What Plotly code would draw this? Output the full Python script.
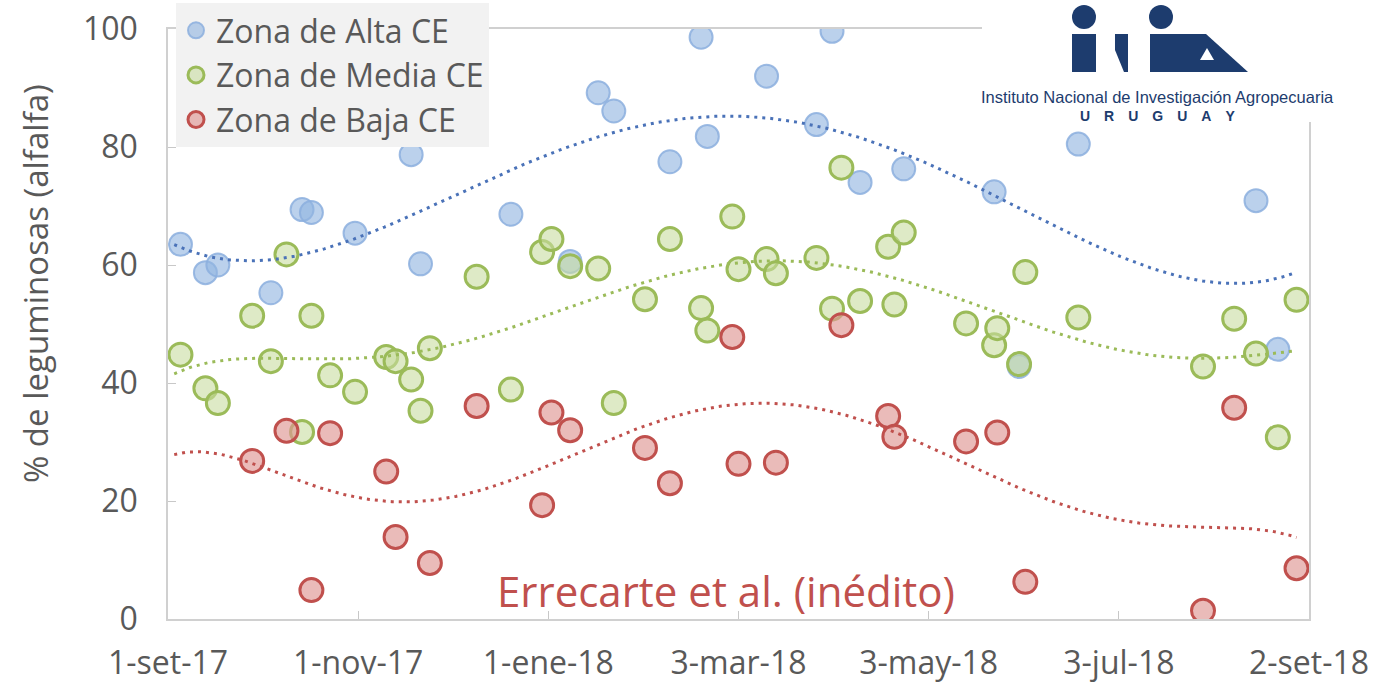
import numpy as np
import pandas as pd
import plotly.graph_objects as go

# ---------------- data ----------------
alta_dates = ["2017-09-05", "2017-09-13", "2017-09-17", "2017-10-04", "2017-10-14", "2017-10-17",
              "2017-10-31", "2017-11-18", "2017-11-21", "2017-12-20", "2018-01-08", "2018-01-17",
              "2018-01-22", "2018-02-09", "2018-02-19", "2018-02-21", "2018-03-12", "2018-03-28",
              "2018-04-02", "2018-04-11", "2018-04-25", "2018-05-24", "2018-06-01", "2018-06-20",
              "2018-08-16", "2018-08-23"]
alta_vals = [63.5, 58.7, 60.0, 55.3, 69.4, 68.9, 65.4, 78.7, 60.2, 68.6, 60.6, 89.2,
             86.1, 77.5, 98.6, 81.8, 92.0, 83.8, 99.6, 74.0, 76.3, 72.4, 42.8, 80.5,
             70.9, 45.7]

media_dates = ["2017-09-05", "2017-09-13", "2017-09-17", "2017-09-28", "2017-10-04", "2017-10-09",
               "2017-10-14", "2017-10-17", "2017-10-23", "2017-10-31", "2017-11-10", "2017-11-13",
               "2017-11-18", "2017-11-21", "2017-11-24", "2017-12-09", "2017-12-20", "2017-12-30",
               "2018-01-02", "2018-01-08", "2018-01-17", "2018-01-22", "2018-02-01", "2018-02-09",
               "2018-02-19", "2018-02-21", "2018-03-01", "2018-03-03", "2018-03-12", "2018-03-15",
               "2018-03-28", "2018-04-02", "2018-04-05", "2018-04-11", "2018-04-20", "2018-04-22",
               "2018-04-25", "2018-05-15", "2018-05-24", "2018-05-25", "2018-06-01", "2018-06-03",
               "2018-06-20", "2018-07-30", "2018-08-09", "2018-08-16", "2018-08-23", "2018-08-29"]
media_vals = [44.8, 39.1, 36.6, 51.4, 43.7, 61.8, 31.7, 51.4, 41.3, 38.5, 44.4, 43.7,
              40.6, 35.3, 45.9, 58.0, 38.9, 62.2, 64.4, 59.8, 59.4, 36.6, 54.2, 64.4,
              52.7, 48.9, 68.2, 59.3, 61.0, 58.6, 61.2, 52.6, 76.5, 53.9, 63.1, 53.3,
              65.5, 50.1, 46.4, 49.3, 43.2, 58.8, 51.1, 42.8, 50.9, 45.0, 30.8, 54.1]

baja_dates = ["2017-09-28", "2017-10-09", "2017-10-17", "2017-10-23", "2017-11-10", "2017-11-13",
              "2017-11-24", "2017-12-09", "2017-12-30", "2018-01-02", "2018-01-08", "2018-02-01",
              "2018-02-09", "2018-03-01", "2018-03-03", "2018-03-15", "2018-04-05", "2018-04-20",
              "2018-04-22", "2018-05-15", "2018-05-25", "2018-06-03", "2018-07-30", "2018-08-09",
              "2018-08-29"]
baja_vals = [26.8, 31.9, 4.9, 31.5, 25.0, 13.9, 9.5, 36.1, 19.3, 35.0, 32.0, 29.0,
             23.0, 47.8, 26.3, 26.5, 49.8, 34.4, 30.9, 30.1, 31.6, 6.3, 1.4, 35.8,
             8.6]

series_names = ["Zona de Alta CE", "Zona de Media CE", "Zona de Baja CE"]
trend_orders = [4, 6, 6]
tick_dates = ["2017-09-01", "2017-11-01", "2018-01-01", "2018-03-03", "2018-05-03", "2018-07-03", "2018-09-02"]
tick_labels = ["1-set-17", "1-nov-17", "1-ene-18", "3-mar-18", "3-may-18", "3-jul-18", "2-set-18"]
y_ticks = [0, 20, 40, 60, 80, 100]
source_note = "Errecarte et al. (inédito)"
y_title = "% de leguminosas (alfalfa)"
logo_line1 = "Instituto Nacional de Investigación Agropecuaria"
logo_line2 = "URUGUAY"

# ---------------- styles ----------------
W, H = 1377, 686
L, R, T, B = 168, 1309, 29, 619  # plot area in px
FONT = "Open Sans"
GREY = "#595959"
NAVY = "#1d3c6e"

styles = [
    dict(fill="rgba(145,180,225,0.62)", line="rgba(140,175,222,0.85)", lw=2, trend="#4a72b8"),
    dict(fill="rgba(200,220,160,0.60)", line="#9bbb59", lw=3, trend="#9bbb59"),
    dict(fill="rgba(222,150,148,0.65)", line="#c0504d", lw=3, trend="#c0504d"),
]


def px(x):
    return (x - L) / (R - L)


def py(y):
    return (B - y) / (B - T)


origin = pd.Timestamp(tick_dates[0])
datasets = [(alta_dates, alta_vals), (media_dates, media_vals), (baja_dates, baja_vals)]
all_days = np.concatenate([(pd.to_datetime(d) - origin).days.values for d, _ in datasets])
grid = np.linspace(all_days.min() - 2, all_days.max(), 300)
grid_dates = origin + pd.to_timedelta(grid, unit="D")

fig = go.Figure()
for (d, v), name, st in zip(datasets, series_names, styles):
    fig.add_trace(go.Scatter(
        x=pd.to_datetime(d), y=v, mode="markers", name=name,
        marker=dict(size=23, color=st["fill"], line=dict(color=st["line"], width=st["lw"])),
    ))

for (d, v), st, order in zip(datasets, styles, trend_orders):
    days = (pd.to_datetime(d) - origin).days.values.astype(float)
    poly = np.polynomial.Polynomial.fit(days, np.array(v), order)
    fig.add_trace(go.Scatter(
        x=grid_dates, y=poly(grid), mode="lines", showlegend=False, hoverinfo="skip",
        line=dict(color=st["trend"], width=3, dash="3px,5px"),
    ))

shapes = []
# white backing of logo (covers frame)
shapes.append(dict(type="rect", xref="paper", yref="paper", x0=px(982), x1=px(1377), y0=py(122), y1=py(0),
                   fillcolor="white", line=dict(width=0), layer="above"))
# i dots
for cx in (1084, 1161):
    shapes.append(dict(type="circle", xref="paper", yref="paper", x0=px(cx - 12), x1=px(cx + 12),
                       y0=py(29), y1=py(5), fillcolor=NAVY, line=dict(width=0), layer="above"))
# i stem 1
shapes.append(dict(type="rect", xref="paper", yref="paper", x0=px(1072), x1=px(1096), y0=py(72), y1=py(34),
                   fillcolor=NAVY, line=dict(width=0), layer="above"))


def path(pts):
    return "M " + " L ".join(f"{px(a):.5f},{py(b):.5f}" for a, b in pts) + " Z"


# N piece
shapes.append(dict(type="path", xref="paper", yref="paper",
                   path=path([(1115, 34), (1128, 34), (1128, 72), (1124, 72), (1115, 50)]),
                   fillcolor=NAVY, line=dict(width=0), layer="above"))
# i stem 2 + A
shapes.append(dict(type="path", xref="paper", yref="paper",
                   path=path([(1150, 34), (1206, 34), (1248, 72), (1150, 72)]),
                   fillcolor=NAVY, line=dict(width=0), layer="above"))
shapes.append(dict(type="path", xref="paper", yref="paper",
                   path=path([(1207, 48), (1214, 60), (1200, 60)]),
                   fillcolor="white", line=dict(width=0), layer="above"))

annotations = [
    dict(text=source_note, xref="paper", yref="paper", x=px(726), y=py(590), showarrow=False,
         font=dict(family=FONT, size=42, color="#c0504d"), xanchor="center", yanchor="middle"),
    dict(text=y_title, xref="paper", yref="paper", x=px(35), y=py(284), showarrow=False, textangle=-90,
         font=dict(family=FONT, size=33, color=GREY), xanchor="center", yanchor="middle"),
    dict(text=logo_line1, xref="paper", yref="paper", x=px(1157), y=py(97), showarrow=False,
         font=dict(family="Liberation Sans", size=16.5, color=NAVY), xanchor="center", yanchor="middle"),
    dict(text="<b>" + "\u2003".join(logo_line2) + "</b>", xref="paper", yref="paper", x=px(1157), y=py(116),
         showarrow=False, font=dict(family="Liberation Sans", size=14, color=NAVY),
         xanchor="center", yanchor="middle"),
]

fig.update_layout(
    width=W, height=H,
    margin=dict(l=L, r=W - R, t=T, b=H - B, pad=0, autoexpand=False),
    paper_bgcolor="white", plot_bgcolor="white",
    font=dict(family=FONT, color=GREY),
    showlegend=True,
    legend=dict(x=px(176), y=py(3), xanchor="left", yanchor="top",
                bgcolor="#f2f2f2", borderwidth=0, font=dict(size=32, color=GREY, family=FONT),
                tracegroupgap=0),
    shapes=shapes,
    annotations=annotations,
)
fig.update_xaxes(
    range=[tick_dates[0], tick_dates[-1]], tickvals=pd.to_datetime(tick_dates), ticktext=tick_labels,
    tickangle=0, showgrid=False, zeroline=False, showline=True, linecolor="#d0d0d0", linewidth=1.5, mirror=True,
    ticks="inside", ticklen=8, tickcolor="#c8c8c8", tickfont=dict(size=32, color=GREY, family=FONT),
    ticklabelstandoff=15,
)
fig.update_yaxes(
    range=[0, 100], tickvals=y_ticks, showgrid=False, zeroline=False, showline=True, linecolor="#d0d0d0",
    linewidth=1.5, mirror=True, ticks="inside", ticklen=8, tickcolor="#c8c8c8",
    tickfont=dict(size=32, color=GREY, family=FONT), ticklabelstandoff=22,
)

fig.write_html("out.html", config={"displayModeBar": False},
               post_script="document.body.style.margin='0';document.body.style.overflow='hidden';")
